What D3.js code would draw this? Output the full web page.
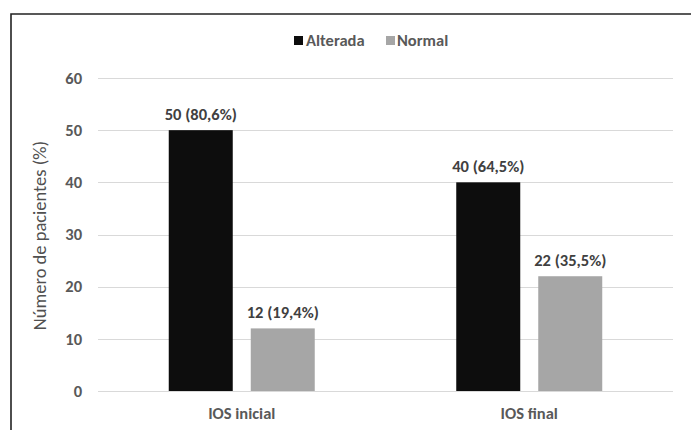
<!DOCTYPE html>
<html>
<head>
<meta charset="utf-8">
<script src="https://cdn.jsdelivr.net/npm/d3@7"></script>
<style>
  html, body { margin: 0; padding: 0; background: #fff; }
  svg { display: block; }
  text { font-family: Carlito, Lato, "Open Sans", sans-serif; }
</style>
</head>
<body>
<svg id="chart" width="691" height="430"></svg>
<script>
// Patient counts by IOS state
const categories = ["IOS inicial", "IOS final"];
const seriesNames = ["Alterada", "Normal"];
const alterada = [50, 40];
const normal = [12, 22];
const alteradaPct = ["80,6%", "64,5%"];
const normalPct = ["19,4%", "35,5%"];
const yTicks = [0, 10, 20, 30, 40, 50, 60];
const yTitle = "Número de pacientes (%)";

const colors = { Alterada: "#0d0d0d", Normal: "#a6a6a6" };
const textColor = "#595959";

const svg = d3.select("#chart");
const W = 691, H = 430;
const plot = { left: 98, right: 673, top: 78, bottom: 391 };

// frame
svg.append("path")
  .attr("d", `M${W},14 L11,14 L11,${H}`)
  .attr("fill", "none")
  .attr("stroke", "#222")
  .attr("stroke-width", 1.6);

const y = d3.scaleLinear().domain([0, 60]).range([plot.bottom, plot.top]);
const x0 = d3.scaleBand().domain(categories).range([plot.left, plot.right]).padding(0);
const groupW = 146;
const x1 = d3.scaleBand().domain(seriesNames).range([0, groupW]).paddingInner(18 / 82).paddingOuter(0);

// gridlines
svg.append("g")
  .selectAll("line")
  .data(yTicks)
  .join("line")
  .attr("x1", plot.left).attr("x2", plot.right)
  .attr("y1", d => Math.round(y(d)) + 0.5).attr("y2", d => Math.round(y(d)) + 0.5)
  .attr("stroke", "#d9d9d9")
  .attr("stroke-width", 1);

// y axis tick labels
const yAxis = d3.axisLeft(y).tickValues(yTicks).tickSize(0).tickPadding(0);
const yg = svg.append("g").attr("transform", `translate(82,0)`).call(yAxis);
yg.select(".domain").remove();
yg.selectAll("text")
  .attr("fill", textColor)
  .attr("font-size", 16.5)
  .attr("font-weight", "bold")
  .style("font-family", "Carlito, Lato, 'Open Sans', sans-serif");

// y axis title
svg.append("text")
  .attr("transform", "translate(46,235.5) rotate(-90)")
  .attr("text-anchor", "middle")
  .attr("fill", "#505050")
  .attr("font-size", 18.5)
  .text(yTitle);

// bars
const rows = categories.map((c, i) => ({
  cat: c,
  vals: [
    { s: "Alterada", v: alterada[i], pct: alteradaPct[i] },
    { s: "Normal", v: normal[i], pct: normalPct[i] }
  ]
}));

const groups = svg.append("g")
  .selectAll("g")
  .data(rows)
  .join("g")
  .attr("transform", d => `translate(${x0(d.cat) + x0.bandwidth() / 2 - groupW / 2},0)`);

groups.selectAll("rect")
  .data(d => d.vals)
  .join("rect")
  .attr("x", d => x1(d.s))
  .attr("width", x1.bandwidth())
  .attr("y", d => y(d.v))
  .attr("height", d => y(0) - y(d.v))
  .attr("fill", d => colors[d.s]);

groups.selectAll("text.val")
  .data(d => d.vals)
  .join("text")
  .attr("class", "val")
  .attr("x", d => x1(d.s) + x1.bandwidth() / 2)
  .attr("y", d => y(d.v) - 10)
  .attr("text-anchor", "middle")
  .attr("fill", "#404040")
  .attr("font-size", 16.5)
  .attr("font-weight", "bold")
  .text(d => `${d.v} (${d.pct})`);

// category labels
svg.append("g")
  .selectAll("text")
  .data(categories)
  .join("text")
  .attr("x", d => x0(d) + x0.bandwidth() / 2)
  .attr("y", 419)
  .attr("text-anchor", "middle")
  .attr("fill", textColor)
  .attr("font-size", 16.5)
  .attr("font-weight", "bold")
  .text(d => d);

// legend
const legendItems = [
  { s: "Alterada", sx: 294, tx: 306 },
  { s: "Normal", sx: 386, tx: 397 }
];
const lg = svg.append("g");
lg.selectAll("rect")
  .data(legendItems)
  .join("rect")
  .attr("x", d => d.sx).attr("y", 36)
  .attr("width", 9).attr("height", 9)
  .attr("fill", d => colors[d.s]);
lg.selectAll("text")
  .data(legendItems)
  .join("text")
  .attr("x", d => d.tx).attr("y", 46)
  .attr("fill", textColor)
  .attr("font-size", 16.5)
  .attr("font-weight", "bold")
  .text(d => d.s);
</script>
</body>
</html>
